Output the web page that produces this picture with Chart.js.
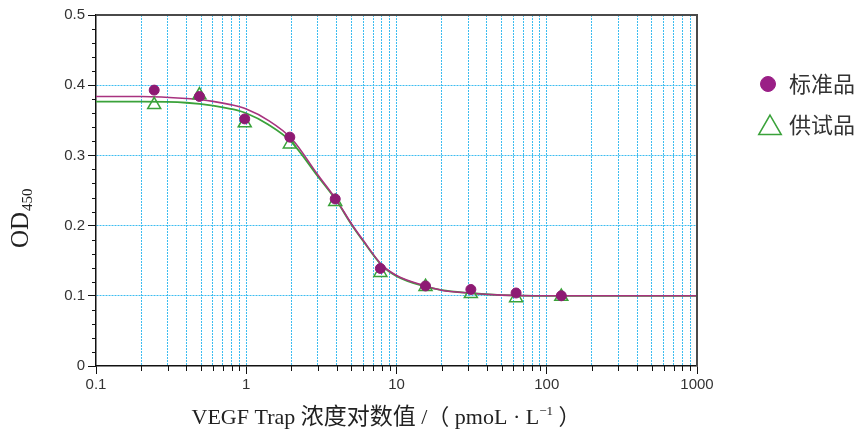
<!DOCTYPE html>
<html>
<head>
<meta charset="utf-8">
<script src="https://cdn.jsdelivr.net/npm/chart.js@4.4.1/dist/chart.umd.min.js"></script>
<style>
  html, body { margin: 0; padding: 0; background: #fff; }
  #wrap { width: 860px; height: 436px; }
</style>
</head>
<body>
<div id="wrap"><canvas id="chart" width="860" height="436"></canvas></div>
<script>
// ── Data ───────────────────────────────────────────────────
const concX = [0.244, 0.488, 0.977, 1.95, 3.91, 7.81, 15.6, 31.25, 62.5, 125];
const stdOD = [0.393, 0.384, 0.352, 0.326, 0.238, 0.139, 0.114, 0.109, 0.104, 0.100];
const testOD = [0.372, 0.386, 0.346, 0.316, 0.234, 0.133, 0.113, 0.103, 0.097, 0.099];

// fitted curves
const curveX = [0.1, 0.2, 0.4, 0.6, 0.8, 1, 1.4, 2, 3, 4, 5, 6, 8, 10, 15, 20, 30, 50, 100, 1000];
const stdCurve = [0.384, 0.384, 0.381, 0.377, 0.372, 0.366, 0.350, 0.324, 0.272, 0.236, 0.203, 0.179, 0.144, 0.129, 0.115, 0.108, 0.104, 0.101, 0.100, 0.100];
const testCurve = [0.3765, 0.3765, 0.375, 0.371, 0.366, 0.360, 0.344, 0.319, 0.270, 0.235, 0.202, 0.178, 0.143, 0.128, 0.114, 0.108, 0.104, 0.101, 0.100, 0.100];

const seriesNames = ['标准品', '供试品'];
const yMajorLabels = ['0', '0.1', '0.2', '0.3', '0.4', '0.5'];
const xMajorLabels = ['0.1', '1', '10', '100', '1000'];

// ── Style ──────────────────────────────────────────────────
const PURPLE = '#8e1a73';
const PURPLE_LINE = '#a8327f';
const GREEN = '#3aa23a';
const GRID = '#3dbdf0';
const NONE = 'rgba(0,0,0,0)';
const SANS = '"Liberation Sans", Arial, sans-serif';
const SERIF = '"Liberation Serif", "Times New Roman", "Noto Sans CJK SC", serif';
const CJK = '"Noto Sans CJK SC", sans-serif';

// tick positions: 1..9 per decade on x, 0.02 steps on y
const xTicks = [];
[0.1, 1, 10, 100].forEach(d => {
  for (let k = 1; k <= 9; k++) xTicks.push(Math.round(d * k * 1000) / 1000);
});
xTicks.push(1000);
const yTicks = [];
for (let i = 0; i <= 25; i++) yTicks.push(i / 50);

const isDecade = v => Math.abs(Math.log10(v) - Math.round(Math.log10(v))) < 1e-9;
const isYMajor = v => Math.round(v * 50) % 5 === 0;

const toPoints = (xs, ys) => xs.map((x, i) => ({ x, y: ys[i] }));

// ── Extras: frame, minor ticks, axis titles, legend ─────────
const extras = {
  id: 'extras',
  afterDraw(chart) {
    const { ctx, chartArea: a, scales } = chart;
    ctx.save();

    // top + right frame
    ctx.strokeStyle = '#4a4a4a';
    ctx.lineWidth = 2;
    ctx.beginPath();
    ctx.moveTo(a.left, a.top);
    ctx.lineTo(a.right, a.top);
    ctx.lineTo(a.right, a.bottom);
    ctx.stroke();

    // short minor ticks
    ctx.strokeStyle = '#111';
    ctx.lineWidth = 1;
    ctx.beginPath();
    scales.x.ticks.forEach(t => {
      if (isDecade(t.value)) return;
      const px = Math.round(scales.x.getPixelForValue(t.value)) + 0.5;
      ctx.moveTo(px, a.bottom);
      ctx.lineTo(px, a.bottom + 5);
    });
    scales.y.ticks.forEach(t => {
      if (isYMajor(t.value)) return;
      const py = Math.round(scales.y.getPixelForValue(t.value)) + 0.5;
      ctx.moveTo(a.left - 4, py);
      ctx.lineTo(a.left, py);
    });
    ctx.stroke();

    ctx.fillStyle = '#222';
    ctx.textBaseline = 'alphabetic';
    ctx.textAlign = 'left';

    // y title: OD with subscript 450
    ctx.save();
    ctx.translate(28, 248);
    ctx.rotate(-Math.PI / 2);
    ctx.font = '25px ' + SERIF;
    ctx.fillText('OD', 0, 0);
    const odW = ctx.measureText('OD').width;
    ctx.font = '15px ' + SERIF;
    ctx.fillText('450', odW + 1, 4);
    ctx.restore();

    // x title with superscript -1
    const parts = [
      { t: 'VEGF Trap ', f: '22px ' + SERIF, dy: 0 },
      { t: '浓度对数值', f: '23px ' + CJK, dy: 0 },
      { t: ' /（ pmoL · L', f: '22px ' + SERIF, dy: 0 },
      { t: '−1', f: '13px ' + SERIF, dy: -9 },
      { t: ' ）', f: '22px ' + SERIF, dy: 0 },
    ];
    let total = 0;
    parts.forEach(p => { ctx.font = p.f; p.w = ctx.measureText(p.t).width; total += p.w; });
    let x = 386 - total / 2;
    parts.forEach(p => {
      ctx.font = p.f;
      ctx.fillText(p.t, x, 424 + p.dy);
      x += p.w;
    });

    // legend
    const H = Chart.helpers;
    ctx.fillStyle = '#9a1f86';
    ctx.strokeStyle = '#9a1f86';
    H.drawPoint(ctx, { pointStyle: 'circle', radius: 7.5, borderWidth: 1 }, 768, 84);
    ctx.fillStyle = NONE;
    ctx.strokeStyle = GREEN;
    ctx.lineWidth = 1.5;
    H.drawPoint(ctx, { pointStyle: 'triangle', radius: 13, borderWidth: 1.5 }, 770, 128);
    ctx.fillStyle = '#333';
    ctx.font = '22px ' + CJK;
    ctx.textBaseline = 'middle';
    ctx.fillText(seriesNames[0], 789, 84);
    ctx.fillText(seriesNames[1], 789, 125);

    ctx.restore();
  },
};

// ── Chart ──────────────────────────────────────────────────
new Chart(document.getElementById('chart').getContext('2d'), {
  type: 'scatter',
  data: {
    datasets: [
      {
        label: seriesNames[0],
        data: toPoints(concX, stdOD),
        pointStyle: 'circle',
        pointRadius: 5,
        backgroundColor: PURPLE,
        borderColor: PURPLE,
        borderWidth: 1,
        order: 0,
      },
      {
        label: seriesNames[1],
        data: toPoints(concX, testOD),
        pointStyle: 'triangle',
        pointRadius: 7.5,
        backgroundColor: NONE,
        borderColor: GREEN,
        borderWidth: 1.5,
        order: 1,
      },
      {
        type: 'line',
        label: 'std fit',
        data: toPoints(curveX, stdCurve),
        borderColor: PURPLE_LINE,
        borderWidth: 1.6,
        pointRadius: 0,
        cubicInterpolationMode: 'monotone',
        order: 2,
      },
      {
        type: 'line',
        label: 'test fit',
        data: toPoints(curveX, testCurve),
        borderColor: GREEN,
        borderWidth: 1.8,
        pointRadius: 0,
        cubicInterpolationMode: 'monotone',
        order: 3,
      },
    ],
  },
  options: {
    responsive: false,
    animation: false,
    layout: { padding: { top: 15, right: 163, bottom: 0, left: 0 } },
    plugins: { legend: { display: false }, tooltip: { enabled: false } },
    scales: {
      x: {
        type: 'logarithmic',
        min: 0.1,
        max: 1000,
        afterBuildTicks: s => { s.ticks = xTicks.map(v => ({ value: v, major: isDecade(v) })); },
        afterFit: s => { s.height = 70; },
        ticks: {
          autoSkip: false,
          maxRotation: 0,
          padding: 2,
          color: '#333',
          font: { family: SANS, size: 15 },
          callback: v => (isDecade(v) ? xMajorLabels[Math.round(Math.log10(v)) + 1] : ''),
        },
        grid: {
          color: c => (c.tick && (c.tick.value === 0.1 || c.tick.value === 1000) ? NONE : GRID),
          tickColor: c => (c.tick && isDecade(c.tick.value) ? '#111' : NONE),
          tickLength: 8,
          lineWidth: 1,
        },
        border: { color: '#111', width: 1.5, dash: [2, 1] },
      },
      y: {
        min: 0,
        max: 0.5,
        afterBuildTicks: s => { s.ticks = yTicks.map(v => ({ value: v })); },
        afterFit: s => { s.width = 96; },
        ticks: {
          autoSkip: false,
          padding: 3,
          color: '#333',
          font: { family: SANS, size: 15 },
          callback: v => (isYMajor(v) ? yMajorLabels[Math.round(v * 10)] : ''),
        },
        grid: {
          color: c => {
            if (!c.tick) return NONE;
            const v = c.tick.value;
            return isYMajor(v) && v > 0.01 && v < 0.49 ? GRID : NONE;
          },
          tickColor: c => (c.tick && isYMajor(c.tick.value) ? '#111' : NONE),
          tickLength: 8,
          lineWidth: 1,
        },
        border: { color: '#111', width: 1.5, dash: [2, 1] },
      },
    },
  },
  plugins: [extras],
});
</script>
</body>
</html>
